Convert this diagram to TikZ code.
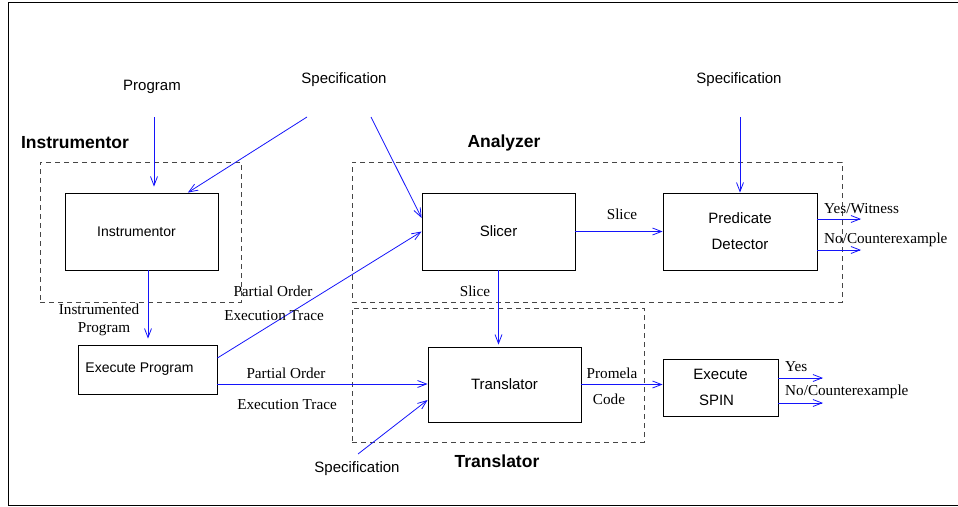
\documentclass[tikz,border=0pt]{standalone}
\usepackage{fontspec}
\setmainfont{Liberation Serif}
\setsansfont{Liberation Sans}
\usetikzlibrary{arrows.meta,calc}
\definecolor{linkblue}{RGB}{20,20,250}
\definecolor{grpgray}{RGB}{70,70,70}
\tikzset{
  box/.style={draw, line width=0.8pt, inner sep=0pt, align=center, font=\sffamily\fontsize{15}{26}\selectfont},
  smallbox/.style={box, font=\sffamily\fontsize{14}{26}\selectfont},
  group/.style={draw=grpgray, line width=0.8pt, dash pattern=on 5pt off 4pt, inner sep=0pt},
  title/.style={font=\sffamily\bfseries\fontsize{17.5}{20}\selectfont},
  src/.style={font=\sffamily\fontsize{15}{18}\selectfont},
  elabel/.style={font=\fontsize{15.2}{17}\selectfont, inner sep=0pt},
  arrow/.style={-{Straight Barb[length=9pt,width=7pt]}, draw=linkblue, line width=0.8pt}
}

\begin{document}
\begin{tikzpicture}[x=1pt, y=-1pt]
  \useasboundingbox (0,0) rectangle (958,506);
  % frame
  \draw[line width=0.8pt] (958,2) -- (8,2) -- (8,505) -- (958,505);

  % dashed groups
  \node[group, minimum width=201pt, minimum height=140pt] (instrgrp) at (140.5,232) {};
  \node[group, minimum width=490pt, minimum height=140pt] (anagrp) at (597,232) {};
  \node[group, minimum width=292pt, minimum height=134pt] (transgrp) at (498,375) {};
  \node[title] (instrtitle) at (75,143) {Instrumentor};
  \node[title] (anatitle) at (504,143) {Analyzer};
  \node[title] (transtitle) at (497,461) {Translator};

  % boxes
  \node[smallbox, minimum width=153pt, minimum height=77pt] (instr) at (141.5,231.5) {Instrumentor\hspace*{10pt}};
  \node[smallbox, minimum width=139pt, minimum height=49pt] (exec) at (147.5,369.5) {Execute Program\hspace*{16pt}};
  \node[box, minimum width=153pt, minimum height=77pt] (slicer) at (498.5,231.5) {Slicer};
  \node[box, minimum width=154pt, minimum height=77pt] (pred) at (740,231.5) {Predicate\\Detector};
  \node[box, minimum width=153pt, minimum height=75pt] (trans) at (504.5,384.5) {Translator};
  \node[box, minimum width=115pt, minimum height=57pt] (spin) at (720.5,387.5) {Execute\\SPIN\hspace*{8pt}};

  % inputs
  \node[src] (prog) at (152,87) {Program};
  \node[src] (spec1) at (344,80) {Specification};
  \node[src] (spec2) at (739,80) {Specification};
  \node[src] (spec3) at (357,469) {Specification};
  \coordinate (progout) at (154,117);
  \coordinate (spec1l) at (307,117);
  \coordinate (spec1r) at (371,117);
  \coordinate (spec2out) at (740,117);
  \coordinate (spec3out) at (358,454);

  % results
  \coordinate (witness) at (861,219);
  \coordinate (counter) at (861,250);
  \coordinate (yes) at (823,378);
  \coordinate (no) at (823,403);

  % connectors
  \draw[arrow, shorten >=6pt] (progout) -- (progout |- instr.north);
  \draw[arrow] (spec1l) -- (instr.40);
  \draw[arrow] (spec1r) -- ($(slicer.west)+(0,-13.5)$);
  \draw[arrow] (spec2out) -- (pred.north);
  \draw[arrow, shorten >=6pt] ($(instr.south)+(6.5,0)$) -- ($(exec.north)+(0.5,0)$);
  \draw[arrow] ($(exec.east)+(0,-11.5)$) -- (slicer.west);
  \draw[arrow] ($(exec.east)+(0,14.5)$) -- ($(trans.west)+(0,-0.5)$);
  \draw[arrow] (spec3out) -- ($(trans.west)+(0,15.5)$);
  \draw[arrow] (slicer) -- (pred);
  \draw[arrow, shorten >=2pt] (slicer.south) -- (slicer.south |- trans.north);
  \draw[arrow] (trans.east) -- (trans.east -| spin.west);
  \draw[arrow] (witness -| pred.east) -- (witness);
  \draw[arrow] (counter -| pred.east) -- (counter);
  \draw[arrow] (yes -| spin.east) -- (yes);
  \draw[arrow] (no -| spin.east) -- (no);

  % connector labels
  \node[elabel] (instrd) at (99,309) {Instrumented};
  \node[elabel] (instrdb) at (104,329) {Program};
  \node[elabel] (po1) at (273,291) {Partial Order};
  \node[elabel] (et1) at (274,316) {Execution Trace};
  \node[elabel] (po2) at (286,373) {Partial Order};
  \node[elabel] (et2) at (287,405) {Execution Trace};
  \node[elabel] (slice1) at (622,214) {Slice};
  \node[elabel] (slice2) at (475,291) {Slice};
  \node[elabel] (promela) at (612,373) {Promela};
  \node[elabel] (code) at (609,399) {Code};
  \node[elabel, anchor=west] (witnesslbl) at (824,209) {Yes/Witness};
  \node[elabel, anchor=west] (counterlbl) at (824,240) {No/Counterexample};
  \node[elabel, anchor=west] (yeslbl) at (785,367) {Yes};
  \node[elabel, anchor=west] (nolbl) at (785,392) {No/Counterexample};
\end{tikzpicture}
\end{document}
